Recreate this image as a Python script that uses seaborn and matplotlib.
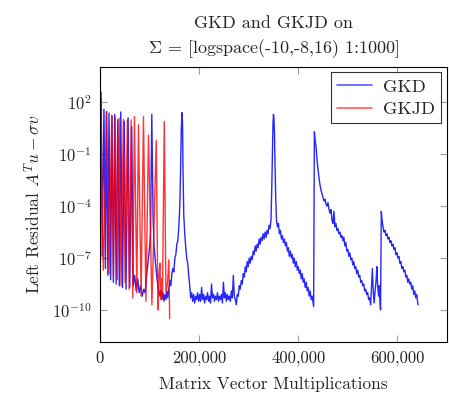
# GKD vs GKJD left residual history

import numpy as np
import pandas as pd
import matplotlib
matplotlib.use("Agg")
import matplotlib.pyplot as plt
import seaborn as sns
from matplotlib.ticker import FuncFormatter, NullLocator

# --- data (x in thousands of MVMs, y as log10 residual) ---
gkd_mvm_k = [
    0, 2.6, 4.5, 8, 11, 12.8, 16, 18.2, 21.5, 24.3, 27, 29.8, 32.5, 36, 39, 41.9,
    45.5, 49, 52.5, 56.7, 60, 64, 67, 70, 73, 76, 79, 82, 85, 88, 91, 94, 97, 100,
    102, 103.5, 104.5, 105.5, 107, 109, 112, 115, 118, 121, 123, 125, 127, 129,
    131, 133, 135, 137, 139, 141, 143, 145, 147, 149, 151, 153, 155, 157, 159,
    161, 162.5, 164, 165.5, 166.5, 167.5, 169, 171, 173, 175, 177, 179, 181, 183,
    185, 187, 189, 191, 193, 195, 197, 199, 201, 203, 205, 207, 209, 211, 213,
    215, 217, 219, 221, 223, 225, 227, 229, 231, 233, 235, 237, 239, 241, 243,
    245, 247, 249, 251, 253, 255, 257, 259, 261, 263, 265, 267, 269, 271, 273,
    275, 277, 279, 281, 283, 285, 287, 289, 291, 293, 295, 297, 299, 301, 303,
    305, 307, 309, 311, 313, 315, 317, 319, 321, 323, 325, 327, 329, 331, 333,
    335, 337, 339, 341, 343, 345, 346.5, 348, 349, 350, 351, 352, 353, 354.5,
    356, 358, 360, 362, 364, 366, 368, 370, 372, 374, 376, 378, 380, 382, 384,
    386, 388, 390, 392, 394, 396, 398, 400, 402, 404, 406, 408, 410, 412, 414,
    416, 418, 420, 422, 424, 426, 428, 430, 431, 432.5, 434, 436, 438, 440, 442,
    444, 446, 448, 450, 452, 454, 456, 458, 460, 462, 464, 466, 468, 470, 472,
    474, 476, 478, 480, 482, 484, 486, 488, 490, 492, 494, 496, 498, 500, 502,
    504, 506, 508, 510, 512, 514, 516, 518, 520, 522, 524, 526, 528, 530, 532,
    534, 536, 538, 540, 542, 544, 546, 548, 549.5, 551, 553, 555, 557, 558.5,
    560, 562, 563.5, 565, 566, 567.5, 569, 571, 573, 575, 577, 579, 581, 583,
    585, 587, 589, 591, 593, 595, 597, 599, 601, 603, 605, 607, 609, 611, 613,
    615, 617, 619, 621, 623, 625, 627, 629, 631, 633, 635, 637, 639, 641, 642,
]
gkd_log_res = [
    1.5, 2.25, -6.9, 1.6, -7.6, 1.46, -8.0, 1.38, -8.25, 1.2, -8.4, 1.3, -8.5, 1.0,
    -8.6, 1.44, -8.7, 0.9, -8.8, 1.1, -8.7, 0.6, -8.6, -8.0, -8.9, -8.2, -9.0,
    -8.6, -9.2, -8.8, -9.0, -8.0, -7.2, -6.4, -5.5, -1.5, 1.3, -1.0, -4.5, -6.3,
    -7.3, -8.2, -8.8, -9.2, -8.9, -9.4, -9.0, -9.5, -9.1, -9.4, -8.9, -9.3, -8.8,
    -8.3, -8.6, -7.9, -7.6, -7.8, -7.0, -6.8, -6.2, -6.0, -5.2, -4.0, -2.0, 0.5,
    1.4, 0.8, -2.0, -4.5, -5.6, -6.4, -7.0, -7.3, -8.0, -8.6, -9.3,
    -9.0, -9.5, -9.1, -9.6, -9.2, -9.4, -9.0, -9.5, -9.1, -9.5, -8.7, -9.4, -9.1,
    -9.6, -9.2, -9.4, -9.0, -9.5, -9.2, -9.6, -8.5, -9.3, -9.1, -9.5, -9.2, -9.4,
    -9.0, -9.5, -9.2, -9.4, -9.1, -9.6, -8.4, -9.3, -9.0, -9.5, -9.1, -9.4, -9.2,
    -9.5, -8.9, -9.3, -8.0, -9.2, -9.4, -9.7, -9.1, -9.2, -8.6, -8.8, -8.3, -8.5,
    -7.9, -8.1, -7.5, -7.8, -7.2, -7.5, -7.0, -7.3, -6.9, -7.1, -6.6, -6.8, -6.3,
    -6.6, -6.2, -6.4, -5.9, -6.2, -5.8, -6.0, -5.6, -5.9, -5.5, -5.8, -5.4, -5.6,
    -5.1, -5.3, -4.8, -3.0, -0.5, 0.8, 1.3, 1.0, 0.2, -1.5, -3.5, -4.8, -5.2,
    -5.0, -5.6, -5.4, -5.9, -5.7, -6.1, -5.9, -6.3, -6.1, -6.6, -6.4, -6.9, -6.6,
    -7.0, -6.8, -7.3, -7.0, -7.5, -7.2, -7.7, -7.5, -7.9, -7.7, -8.2, -7.9, -8.4,
    -8.2, -8.7, -8.4, -8.9, -8.7, -9.2, -8.9, -9.4, -9.2, -9.6, -9.8, 0.3, -0.2,
    -0.6, -1.4, -1.9, -2.4, -2.8, -3.1, -3.3, -3.5, -3.7, -3.6, -3.9, -4.0, -3.8,
    -4.2, -4.4, -4.2, -4.8, -5.0, -4.3, -5.2, -5.0, -5.4, -5.3, -5.6, -5.5, -5.8,
    -5.7, -6.0, -5.8, -6.3, -6.1, -6.6, -6.5, -6.9, -6.7, -7.1, -7.0, -7.4, -7.2,
    -7.6, -7.5, -7.9, -7.7, -8.1, -8.0, -8.4, -8.3, -8.6, -8.5, -8.9, -8.8, -9.1,
    -9.0, -9.4, -9.3, -9.7, -8.5, -7.6, -8.8, -9.6, -8.9, -8.3, -7.5, -8.5, -9.2,
    -8.6, -9.6, -10.0, -4.3, -4.8, -5.2, -5.5, -5.4, -5.7, -5.6, -5.9, -5.8, -6.1,
    -6.0, -6.3, -6.2, -6.5, -6.4, -6.8, -6.7, -7.0, -6.9, -7.3, -7.2, -7.6, -7.5,
    -7.8, -7.7, -8.1, -8.0, -8.4, -8.2, -8.5, -8.4, -8.8, -8.6, -9.1, -8.9, -9.3,
    -9.1, -9.6, -9.7,
]

gkjd_mvm_k = [
    0, 1.0, 2.0, 4.5, 6.7, 13.6, 18.2, 23.7, 27, 30.4, 35, 38.5, 42.5, 47.2, 50.7,
    55.3, 58.8, 62.8, 66.2, 69.5, 74.3, 77.6, 83, 87.7, 92.6, 97.9, 104.7, 113.5,
    116.9, 119, 121, 122.5, 124, 126, 129.7, 133, 136, 139, 140.5,
]
gkjd_log_res = [
    2.8, 2.2, 2.6, -5.0, -7.7, 1.46, -7.9, 1.27, -8.1, 1.17, -8.25, 1.07, -8.6,
    1.0, -8.4, 1.0, -8.8, 0.98, -9.3, 1.17, -9.0, 0.7, -9.2, 1.17, -9.5, 0.1,
    -9.7, -0.2, -10.0, -8.0, -7.3, -9.4, -8.2, -9.3, 0.9, -9.0, -8.5, -7.1, -10.5,
]

x_ticks = [0, 200000, 400000, 600000]
y_tick_exps = [2, -1, -4, -7, -10]

gkd = pd.DataFrame({"mvm": np.array(gkd_mvm_k) * 1000,
                    "res": np.power(10.0, gkd_log_res)})
gkjd = pd.DataFrame({"mvm": np.array(gkjd_mvm_k) * 1000,
                     "res": np.power(10.0, gkjd_log_res)})

# --- style: try to look like pgfplots ---
sns.set_style("ticks")
plt.rcParams["font.family"] = ["cmr10", "DejaVu Sans"]
plt.rcParams["mathtext.fontset"] = "cm"
plt.rcParams["axes.formatter.use_mathtext"] = True
plt.rcParams["axes.unicode_minus"] = False

fig = plt.figure(figsize=(4.49, 3.98), dpi=100)
ax = fig.add_axes([0.2227, 0.1407, 0.7728, 0.691])

sns.lineplot(data=gkd, x="mvm", y="res", ax=ax, color="#0000ff", alpha=0.85,
             lw=1.0, estimator=None, sort=False, label="GKD")
sns.lineplot(data=gkjd, x="mvm", y="res", ax=ax, color="#ff0000", alpha=0.8,
             lw=1.0, estimator=None, sort=False, label="GKJD")

ax.set_yscale("log")
ax.set_xlim(0, 700000)
ax.set_ylim(10 ** -11.85, 10 ** 4.04)
ax.set_xticks(x_ticks)
ax.xaxis.set_major_formatter(FuncFormatter(lambda v, p: f"{int(v):,}"))
ax.set_yticks([10.0 ** e for e in y_tick_exps])
ax.yaxis.set_major_formatter(FuncFormatter(lambda v, p: rf"$10^{{{int(round(np.log10(v)))}}}$"))
ax.yaxis.set_minor_locator(NullLocator())

ax.tick_params(direction="in", top=True, right=True, length=5, width=0.8,
               color="#999999", labelsize=12, pad=6)
for s in ax.spines.values():
    s.set_linewidth(0.8)
    s.set_color("black")

ax.set_xlabel("Matrix Vector Multiplications", fontsize=12.5, labelpad=8)
ax.set_ylabel(r"Left Residual $A^Tu-\sigma v$", fontsize=12.5, labelpad=6)
ax.set_title("GKD and GKJD on\n" + r"$\Sigma$ = [logspace(-10,-8,16) 1:1000]",
             fontsize=13, pad=10, linespacing=1.4)

leg = ax.legend(loc="upper right", fontsize=13.2, frameon=True, fancybox=False,
                handlelength=1.9, handletextpad=0.6, borderpad=0.35,
                labelspacing=0.35, borderaxespad=0.3)
leg.get_frame().set_edgecolor("black")
leg.get_frame().set_linewidth(0.8)
for line in leg.get_lines():
    line.set_linewidth(1.2)
    line.set_alpha(0.65)

fig.savefig("out.png", dpi=100)
